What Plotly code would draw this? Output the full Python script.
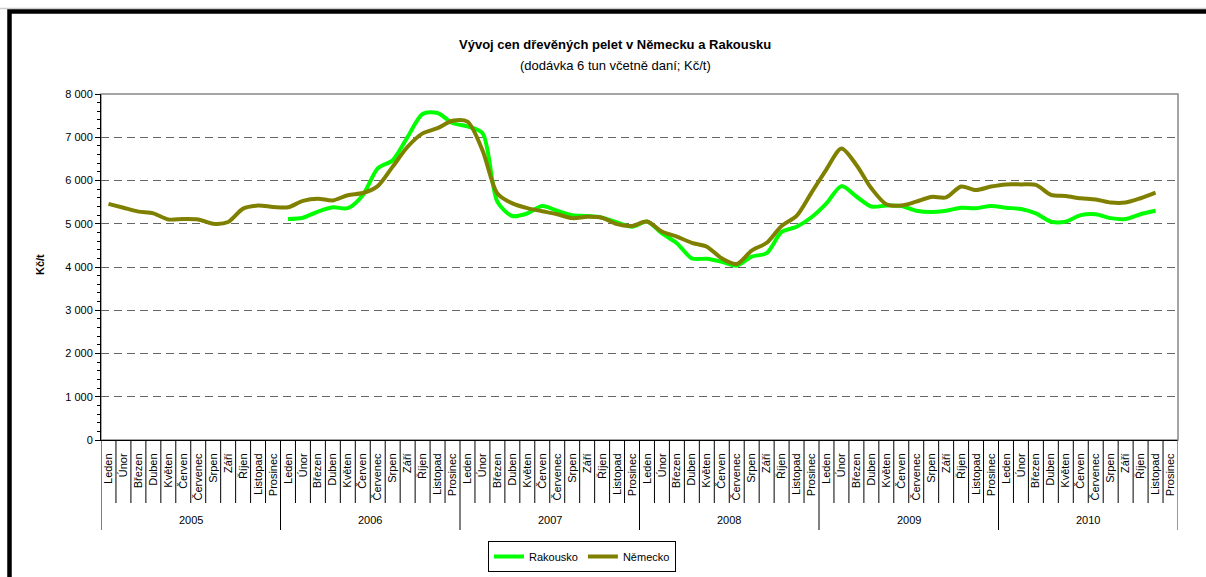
import plotly.graph_objects as go

months = ["Leden", "Únor", "Březen", "Duben", "Květen", "Červen", "Červenec",
          "Srpen", "Září", "Říjen", "Listopad", "Prosinec"]
years = ["2005", "2006", "2007", "2008", "2009", "2010"]

rakousko = [
    None, None, None, None, None, None, None, None, None, None, None, None,
    5110, 5140, 5280, 5380, 5360, 5660, 6280, 6470, 7010, 7540, 7560, 7330,
    7250, 7100, 5510, 5180, 5240, 5410, 5300, 5200, 5180, 5140, 5030, 4930,
    5050, 4780, 4550, 4200, 4190, 4120, 4030, 4240, 4320, 4810, 4930, 5150,
    5470, 5870, 5630, 5400, 5420, 5410, 5300, 5270, 5300, 5370, 5360, 5410,
    5370, 5340, 5240, 5050, 5050, 5200, 5220, 5130, 5110, 5220, 5300, None,
]
nemecko = [
    5460, 5370, 5280, 5240, 5100, 5110, 5100, 5000, 5040, 5350, 5420, 5390,
    5380, 5530, 5580, 5540, 5660, 5710, 5870, 6320, 6780, 7090, 7210, 7380,
    7360, 6700, 5700, 5470, 5360, 5290, 5220, 5130, 5160, 5140, 4990, 4950,
    5050, 4820, 4700, 4560, 4470, 4200, 4070, 4380, 4560, 4950, 5180, 5720,
    6260, 6740, 6360, 5820, 5450, 5420, 5510, 5620, 5610, 5860, 5780, 5860,
    5910, 5910, 5900, 5670, 5640, 5590, 5560, 5490, 5490, 5590, 5720, None,
]

n_m = len(months)
n_cat = n_m * len(years)
idx = list(range(n_cat))
month_labels = [m for y in years for m in months]

FONT = "Liberation Sans, Arial, sans-serif"

PL, PT, PW, PH = 101, 94, 1077, 346   # plot area in page pixels


def px(X):
    return (X - PL) / PW


def py(Y):
    return (PT + PH - Y) / PH


fig = go.Figure()
fig.add_trace(go.Scatter(
    x=idx, y=rakousko, name="Rakousko", mode="lines",
    line=dict(color="#00FF00", width=4, shape="spline", smoothing=0.8),
    connectgaps=False, hoverinfo="skip",
))
fig.add_trace(go.Scatter(
    x=idx, y=nemecko, name="Německo", mode="lines",
    line=dict(color="#808000", width=4, shape="spline", smoothing=0.8),
    connectgaps=False, hoverinfo="skip",
))

shapes = [
    dict(type="rect", xref="paper", yref="paper", x0=0, x1=1, y0=0, y1=1,
         line=dict(color="#888888", width=1.5), layer="below"),
    dict(type="line", xref="paper", yref="paper", x0=px(0), x1=px(1206),
         y0=py(8.5), y1=py(8.5), line=dict(color="#cccccc", width=1.5)),
    dict(type="rect", xref="paper", yref="paper",
         x0=px(9.5), x1=px(1220), y0=py(600), y1=py(11.5),
         line=dict(color="black", width=4.5), layer="above"),
]
# month separators (category boundaries), longer at year boundaries
for i in range(n_cat + 1):
    is_year = (i % n_m == 0)
    last = (i == n_cat)
    shapes.append(dict(
        type="line", xref="x", yref="paper", x0=i - 0.5, x1=i - 0.5,
        y0=py(530 if is_year else 503), y1=0,
        line=dict(color="#777777" if last else "black", width=1.5 if last else 1),
    ))

annotations = [
    dict(text="<b>Vývoj cen dřevěných pelet v Německu a Rakousku</b>",
         xref="paper", yref="paper", x=px(615), y=py(45),
         xanchor="center", yanchor="middle", showarrow=False,
         font=dict(family=FONT, size=13)),
    dict(text="(dodávka 6 tun včetně daní; Kč/t)",
         xref="paper", yref="paper", x=px(615), y=py(66),
         xanchor="center", yanchor="middle", showarrow=False,
         font=dict(family=FONT, size=13)),
    dict(text="<b>Kč/t</b>", textangle=-90,
         xref="paper", yref="paper", x=px(40), y=py(265),
         xanchor="center", yanchor="middle", showarrow=False,
         font=dict(family=FONT, size=11)),
]
for k, yr in enumerate(years):
    annotations.append(dict(
        text=yr, xref="x", yref="paper", x=k * n_m + (n_m - 1) / 2, y=py(520),
        xanchor="center", yanchor="middle", showarrow=False,
        font=dict(family=FONT, size=11),
    ))

fig.update_layout(
    width=1206, height=577,
    margin=dict(l=101, r=28, t=94, b=137, autoexpand=False),
    paper_bgcolor="white", plot_bgcolor="white",
    font=dict(family=FONT, size=11, color="black"),
    separators=", ",
    showlegend=True,
    hovermode=False,
    legend=dict(
        orientation="h", x=px(582), xanchor="center", y=py(541), yanchor="top",
        bordercolor="black", borderwidth=1, bgcolor="white",
        font=dict(family=FONT, size=11), itemwidth=30,
    ),
    xaxis=dict(
        range=[-0.5, n_cat - 0.5], tickmode="array", tickvals=idx,
        ticktext=month_labels, tickangle=-90,
        ticks="outside", ticklen=8, tickcolor="rgba(0,0,0,0)",
        showline=True, linecolor="black", linewidth=1,
        showgrid=False, zeroline=False, automargin=False,
        tickfont=dict(family=FONT, size=11),
    ),
    yaxis=dict(
        range=[0, 8000], tickmode="array",
        tickvals=[0, 1000, 2000, 3000, 4000, 5000, 6000, 7000, 8000],
        tickformat=",d",
        showline=True, linecolor="black", linewidth=1,
        ticks="outside", ticklen=5, tickcolor="black",
        showgrid=True, gridcolor="#666666", griddash="8px,5px", gridwidth=1,
        zeroline=False, automargin=False,
        minor=dict(dtick=200, ticks="outside", ticklen=3, tickcolor="black", showgrid=False),
        tickfont=dict(family=FONT, size=11),
    ),
    shapes=shapes,
    annotations=annotations,
)

fig.write_html(
    "out.html",
    config={"displayModeBar": False, "staticPlot": True},
    post_script=(
        "document.documentElement.style.margin='0';"
        "document.documentElement.style.overflow='hidden';"
        "document.body.style.margin='0';"
        "document.body.style.overflow='hidden';"
    ),
)
